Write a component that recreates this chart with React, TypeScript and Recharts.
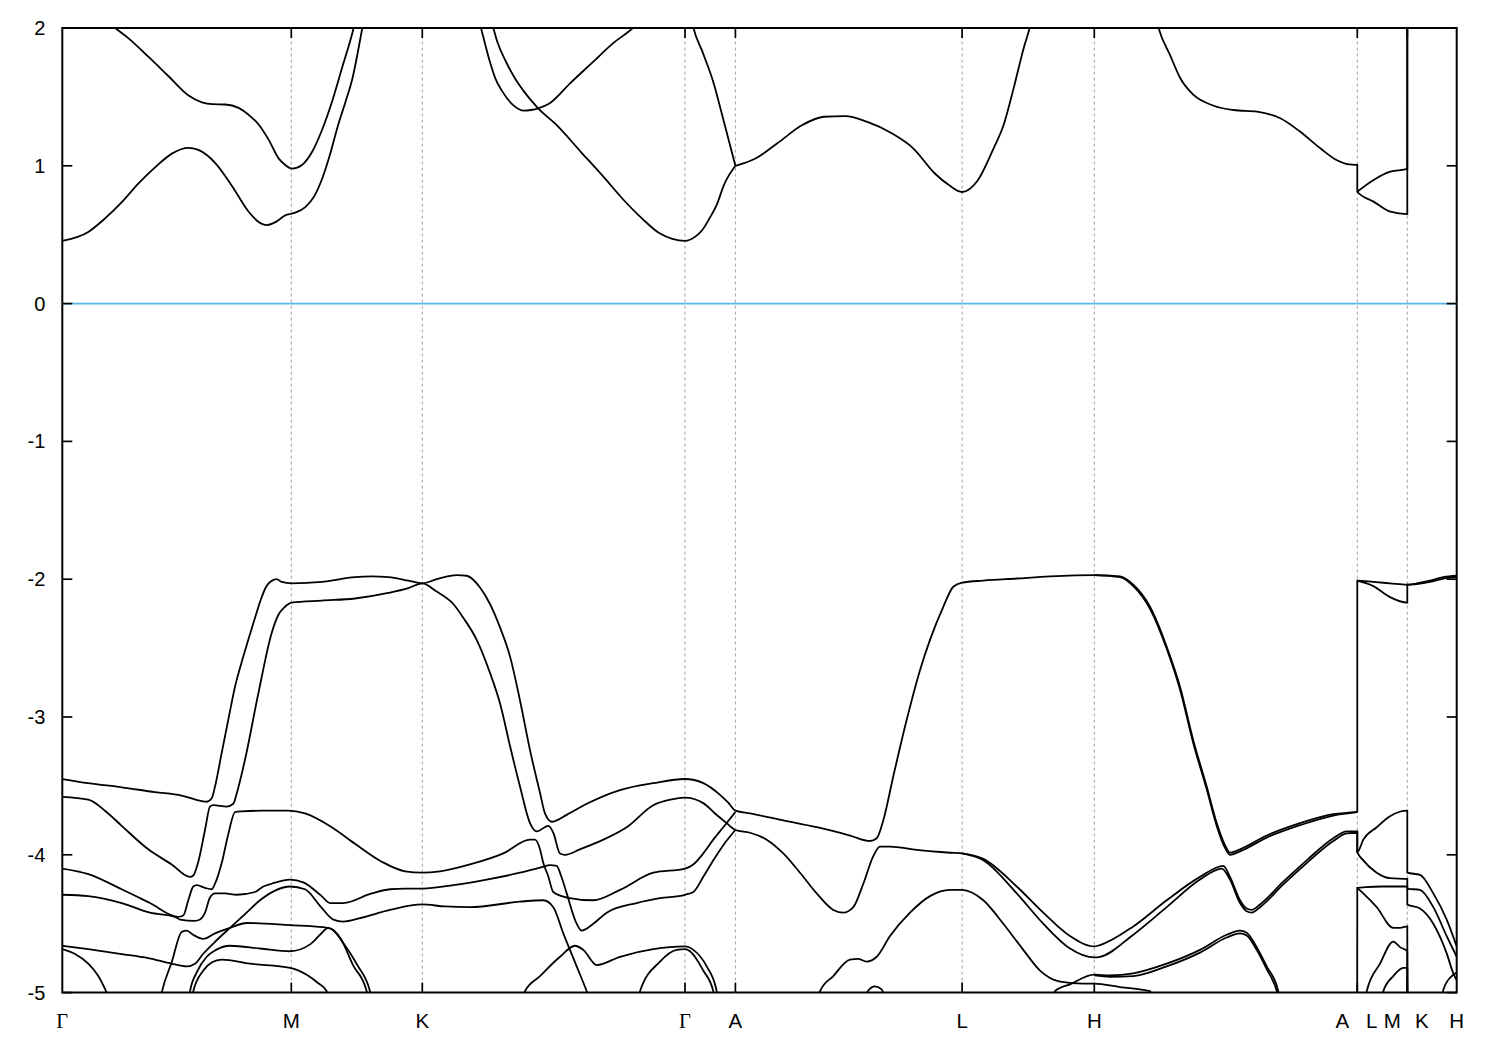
import React from 'react';
import { LineChart, Line, XAxis, YAxis, ReferenceLine, ReferenceArea } from 'recharts';

// ---- layout constants (svg coordinates) ----
const W = 1484;
const H = 1034;
const PLOT_L = 54.3;
const PLOT_T = 20;
const PLOT_R = 1448.7;
const PLOT_B = 984.6;
const KMAX = 1394.4;

// ---- axes ----
const kTicks = [0, 229, 360, 622.7, 673.1, 899.8, 1032, 1295, 1345, 1394.4];
const kLabels = ['Γ', 'M', 'K', 'Γ', 'A', 'L', 'H', 'A|L', 'M|K', 'H'];
const eTicks = [-5, -4, -3, -2, -1, 0, 1, 2];

// ---- conduction bands [k, E] ----
const cbLower: number[][] = [[0,0.455],[26,0.52],[43,0.62],[60,0.74],[76,0.87],[93,0.99],[110,1.09],[126,1.13],[136,1.115],[153,1.02],[170,0.85],[186,0.67],[195,0.60],[205,0.57],[214,0.595],[223,0.64],[229,0.652],[233,0.66],[243,0.70],[252,0.78],[260,0.91],[268,1.09],[276,1.30],[283,1.46],[290,1.63],[300,2.0],[310,2.4],[360,3.0],[410,2.45],[431,2.0],[435,1.90],[443.7,1.755],[452.6,1.635],[461.6,1.54],[475.9,1.417],[493.7,1.30],[518.7,1.10],[540,0.93],[561.6,0.75],[579.4,0.62],[597.3,0.51],[610,0.47],[622.7,0.455],[633,0.486],[640,0.534],[647.3,0.62],[654.4,0.716],[661.6,0.86],[673.1,1.0]];
const cbALHA: number[][] = [[673.1,1.0],[693.7,1.055],[715,1.163],[740,1.296],[761.6,1.356],[783,1.36],[804.4,1.32],[829.4,1.236],[850.9,1.127],[872.3,0.946],[886.6,0.86],[899.8,0.81],[915,0.89],[931.3,1.127],[941.3,1.296],[951.3,1.562],[961.3,1.852],[967.3,2.0],[980,2.5],[1032,3.0],[1083,2.5],[1096.3,2.0],[1108,1.80],[1118,1.635],[1131.3,1.514],[1151.3,1.436],[1171.3,1.405],[1194.7,1.393],[1218,1.345],[1238,1.247],[1258,1.127],[1274.7,1.04],[1285,1.012],[1295,1.006],[1295,0.812],[1311.3,0.74],[1328,0.667],[1345,0.65],[1345,2.6],[1394.4,2.6]];
const cbUpper: number[][] = [[0,2.35],[25,2.2],[53,2.0],[66.3,1.925],[86.3,1.79],[106.3,1.65],[126.3,1.51],[139.7,1.46],[150,1.447],[163,1.445],[176.3,1.42],[186.3,1.37],[196.3,1.30],[206.3,1.19],[216.3,1.054],[223,1.006],[229.7,0.98],[239.7,1.006],[249.7,1.10],[259.7,1.26],[269.7,1.465],[279.7,1.71],[291.3,2.0],[300,2.3],[360,3.0],[405,2.4],[418.7,2.0],[427.6,1.755],[433,1.635],[440,1.54],[450.9,1.44],[461.6,1.40],[468.7,1.405],[475.9,1.417],[486.6,1.45],[508,1.60],[529.4,1.745],[550.9,1.89],[570.5,2.0],[600,2.25],[622.7,2.35],[631.2,2.0],[640,1.83],[650.9,1.61],[661.6,1.32],[673.1,1.0]];
const cbLMUpper: number[][] = [[1295,0.812],[1311.3,0.897],[1328,0.957],[1345,0.977],[1345,2.6],[1394.4,2.6]];

// ---- valence bands [k, E] ----
const vb1: number[][] = [[0,-3.45],[26,-3.48],[59.4,-3.51],[92.7,-3.545],[119.4,-3.57],[139.4,-3.61],[144.4,-3.615],[149.4,-3.59],[152.7,-3.505],[159.4,-3.26],[166,-3.02],[172.7,-2.78],[179.4,-2.6],[186,-2.44],[192.7,-2.28],[199.4,-2.13],[203.5,-2.06],[207.7,-2.02],[214.4,-2.0],[219.4,-2.02],[229.4,-2.03],[259.4,-2.02],[292.7,-1.985],[309.4,-1.98],[326,-1.985],[346,-2.01],[360,-2.03],[374.4,-2.0],[394.4,-1.97],[404.4,-1.975],[417.7,-2.06],[427.7,-2.18],[437.7,-2.35],[447.7,-2.56],[457.7,-2.88],[467.7,-3.24],[477.7,-3.55],[482.7,-3.70],[489.4,-3.76],[504.4,-3.71],[524.4,-3.63],[557.7,-3.53],[591,-3.48],[622.7,-3.45],[641,-3.48],[657.7,-3.565],[665.7,-3.62],[673.1,-3.68],[687.7,-3.70],[721,-3.75],[754.4,-3.80],[787.7,-3.86],[807.7,-3.90],[814.4,-3.88],[821,-3.75],[831,-3.43],[844.4,-3.02],[857.7,-2.66],[867.7,-2.44],[881,-2.20],[891,-2.055],[899.8,-2.025],[921,-2.01],[954.4,-1.995],[987.7,-1.98],[1032,-1.97],[1057.7,-1.98],[1071,-2.04],[1087.7,-2.20],[1104.4,-2.49],[1117.7,-2.78],[1131,-3.17],[1144.4,-3.505],[1154.4,-3.77],[1162.7,-3.93],[1167.7,-3.985],[1177.7,-3.96],[1204.4,-3.86],[1237.7,-3.77],[1271,-3.705],[1295,-3.687],[1295,-2.01],[1311,-2.02],[1327.7,-2.03],[1345,-2.04],[1354.4,-2.03],[1367.7,-2.01],[1381,-1.985],[1394.4,-1.975]];
const vb1b: number[][] = [[1032,-1.97],[1057.7,-1.985],[1071,-2.05],[1087.7,-2.215],[1104.4,-2.505],[1117.7,-2.80],[1131,-3.19],[1144.4,-3.525],[1154.4,-3.79],[1162.7,-3.95],[1167.7,-4.0],[1177.7,-3.975],[1204.4,-3.875],[1237.7,-3.785],[1271,-3.715],[1295,-3.69]];
const vbLM2: number[][] = [[1295,-2.01],[1311,-2.05],[1327.7,-2.13],[1345,-2.17],[1345,-2.04],[1354.4,-2.035],[1367.7,-2.02],[1381,-1.995],[1394.4,-1.985]];
const vb2: number[][] = [[0,-3.58],[26,-3.60],[42.7,-3.68],[59.4,-3.79],[86,-3.96],[109.4,-4.07],[127.7,-4.16],[131,-4.15],[136,-4.05],[142.7,-3.82],[147.7,-3.65],[151,-3.64],[164.4,-3.65],[171,-3.63],[174.4,-3.555],[182.7,-3.31],[196,-2.83],[209.4,-2.39],[216,-2.26],[222.7,-2.20],[229.4,-2.17],[259.4,-2.155],[292.7,-2.14],[326,-2.10],[346,-2.065],[360,-2.03],[374.4,-2.09],[391,-2.18],[401,-2.28],[414.4,-2.44],[427.7,-2.68],[437.7,-2.90],[447.7,-3.21],[457.7,-3.505],[467.7,-3.77],[474.4,-3.83],[486,-3.79],[491,-3.84],[497.7,-3.99],[502.7,-4.0],[517.7,-3.96],[541,-3.89],[564.4,-3.80],[591,-3.64],[608,-3.60],[622.7,-3.585],[641,-3.625],[652.7,-3.70],[664.4,-3.77],[673.1,-3.82],[687.7,-3.84],[704.4,-3.89],[721,-3.99],[737.7,-4.13],[754.4,-4.28],[771,-4.40],[781,-4.42],[791,-4.38],[801,-4.21],[811,-4.01],[817.7,-3.94],[827.7,-3.94],[854.4,-3.965],[887.7,-3.985],[899.8,-3.99],[921,-4.03],[954.4,-4.23],[981,-4.42],[1007.7,-4.59],[1032,-4.665],[1037.7,-4.655],[1071,-4.52],[1104.4,-4.33],[1137.7,-4.16],[1161,-4.08],[1167.7,-4.16],[1177.7,-4.33],[1184.4,-4.39],[1189.4,-4.40],[1197.7,-4.36],[1221,-4.195],[1244.4,-4.04],[1271,-3.88],[1284.4,-3.83],[1295,-3.83],[1295,-3.98],[1301,-3.89],[1314.4,-3.80],[1327.7,-3.72],[1345,-3.68],[1345,-4.13],[1357.7,-4.145],[1371,-4.28],[1384.4,-4.47],[1394.4,-4.665]];
const vb2b: number[][] = [[899.8,-3.99],[921,-4.04],[954.4,-4.28],[981,-4.50],[1007.7,-4.68],[1032,-4.745],[1037.7,-4.74],[1071,-4.58],[1104.4,-4.38],[1137.7,-4.18],[1159.4,-4.10],[1167.7,-4.18],[1177.7,-4.35],[1184.4,-4.41],[1189.4,-4.42],[1197.7,-4.38],[1221,-4.215],[1244.4,-4.06],[1271,-3.90],[1284.4,-3.845],[1295,-3.84],[1295,-3.98],[1301,-4.04],[1314.4,-4.13],[1327.7,-4.17],[1345,-4.175],[1345,-4.245],[1357.7,-4.255],[1371,-4.38],[1384.4,-4.59],[1394.4,-4.74]];
const vb3: number[][] = [[0,-4.10],[26,-4.14],[59.4,-4.25],[87.7,-4.35],[116,-4.45],[121,-4.44],[126,-4.33],[131,-4.23],[134.4,-4.22],[142.7,-4.24],[149.4,-4.25],[152.7,-4.21],[159.4,-4.06],[166,-3.85],[172.7,-3.69],[179.4,-3.685],[200,-3.68],[226,-3.68],[242.7,-3.70],[269.4,-3.80],[292.7,-3.92],[319.4,-4.05],[342.7,-4.12],[360,-4.13],[377.7,-4.12],[407.7,-4.07],[441,-3.99],[467.7,-3.89],[472.7,-3.89],[477.7,-3.96],[481,-4.06],[485.7,-4.15],[491,-4.27],[504.4,-4.31],[531,-4.33],[557.7,-4.255],[591,-4.13],[622.7,-4.10],[631,-4.07],[641,-3.99],[651,-3.89],[661,-3.80],[673.1,-3.69]];
const vb4: number[][] = [[0,-4.29],[26,-4.30],[59.4,-4.35],[87.7,-4.42],[112.7,-4.45],[117.7,-4.47],[132.7,-4.48],[137.7,-4.47],[142.7,-4.42],[147.7,-4.31],[152.7,-4.28],[162.7,-4.28],[174.4,-4.29],[192.7,-4.27],[201,-4.23],[209.4,-4.21],[227.7,-4.18],[241,-4.20],[259.4,-4.30],[267.7,-4.35],[281,-4.35],[309.4,-4.28],[327.7,-4.25],[342.7,-4.245],[360,-4.245],[391,-4.22],[424.4,-4.18],[457.7,-4.13],[479.4,-4.09],[487.7,-4.075],[494.4,-4.08],[498.7,-4.15],[504.4,-4.28],[514.4,-4.50],[519.4,-4.55],[531,-4.50],[544.4,-4.42],[574.4,-4.35],[597.7,-4.315],[622.7,-4.29],[631,-4.27],[641,-4.16],[651,-4.04],[661,-3.93],[673.1,-3.82]];
const vb5: number[][] = [[0,-4.66],[26,-4.685],[59.4,-4.72],[86,-4.75],[109.4,-4.79],[124.4,-4.81],[132.7,-4.79],[140.7,-4.72],[154.4,-4.62],[167.7,-4.53],[182.7,-4.43],[197.7,-4.33],[212.7,-4.26],[227.7,-4.23],[242.7,-4.25],[257.7,-4.37],[271,-4.47],[281,-4.485],[297.7,-4.46],[327.7,-4.40],[360,-4.36],[382.7,-4.375],[407.7,-4.38],[457.7,-4.34],[481,-4.33],[491,-4.38],[501,-4.57],[514.4,-4.81],[524.4,-4.99],[530,-5.1]];
const vb6: number[][] = [[0,-4.685],[12.7,-4.72],[26,-4.79],[36,-4.88],[44.4,-5.0],[48,-5.06]];
const vb7: number[][] = [[97.7,-5.06],[99.4,-5.0],[109.4,-4.78],[119.4,-4.56],[124.4,-4.55],[130.7,-4.58],[141,-4.61],[152.7,-4.57],[167.7,-4.53],[184.4,-4.495],[227.7,-4.51],[261,-4.525],[269.4,-4.54],[281,-4.64],[295,-4.80],[307.7,-4.99],[310,-5.06]];
const vbArc1: number[][] = [[126.7,-5.06],[127.7,-4.99],[134.7,-4.85],[144.4,-4.74],[153.7,-4.69],[167.7,-4.66],[197.7,-4.68],[227.7,-4.70],[247.7,-4.65],[257.7,-4.58],[266,-4.53],[277.7,-4.60],[290.7,-4.80],[304.4,-4.99],[306,-5.06]];
const vbArc2: number[][] = [[129.7,-5.06],[131,-4.99],[141,-4.84],[149.7,-4.78],[159.4,-4.76],[187.7,-4.79],[227.7,-4.82],[244.4,-4.87],[255.7,-4.93],[264.4,-4.99],[266,-5.06]];
const vbKG4: number[][] = [[459.7,-5.06],[462.7,-4.99],[477.7,-4.88],[497.7,-4.74],[512.7,-4.66],[521,-4.69],[534.4,-4.80],[557.7,-4.74],[591,-4.685],[622.7,-4.665],[631,-4.69],[644.4,-4.81],[654.4,-4.99],[656,-5.06]];
const vbKG5: number[][] = [[575.7,-5.06],[577.7,-4.99],[597.7,-4.775],[614.4,-4.69],[622.7,-4.685],[627.7,-4.70],[641,-4.84],[651,-4.99],[652.7,-5.06]];
const vbHump: number[][] = [[802,-5.04],[806,-4.985],[812.7,-4.955],[819,-4.975],[823,-5.04]];
const vb8: number[][] = [[755.7,-5.06],[757.7,-4.99],[771,-4.88],[787.7,-4.76],[795.7,-4.755],[804.4,-4.775],[814.4,-4.74],[827.7,-4.59],[847.7,-4.42],[867.7,-4.30],[887.7,-4.255],[899.8,-4.255],[921,-4.33],[941,-4.50],[961,-4.69],[977.7,-4.84],[997.7,-4.92],[1021,-4.935],[1032,-4.935],[1057.7,-4.96],[1087.7,-4.99],[1091,-5.06]];
const vb9: number[][] = [[990,-5.06],[992.7,-4.99],[1007.7,-4.94],[1032,-4.87],[1047.7,-4.875],[1071,-4.86],[1104.4,-4.79],[1137.7,-4.69],[1164.4,-4.58],[1177.7,-4.55],[1184.4,-4.565],[1194.4,-4.67],[1204.4,-4.81],[1216,-4.99],[1218,-5.06]];
const vb9b: number[][] = [[1032,-4.875],[1047.7,-4.885],[1071,-4.88],[1104.4,-4.81],[1137.7,-4.71],[1164.4,-4.60],[1177.7,-4.57],[1184.4,-4.585],[1194.4,-4.69],[1204.4,-4.83],[1215,-5.0],[1217,-5.06]];
const vb10: number[][] = [[1294.9,-5.1],[1295,-4.24],[1303,-4.235],[1320,-4.23],[1345,-4.23],[1345,-4.36],[1357.7,-4.39],[1371,-4.50],[1384.4,-4.715],[1391,-4.86],[1394.4,-4.91]];
const vb11: number[][] = [[1295,-4.24],[1301,-4.28],[1314.4,-4.38],[1331,-4.53],[1337.7,-4.53],[1345,-4.52],[1345.1,-5.1]];
const vb12: number[][] = [[1304,-5.06],[1304.4,-4.99],[1317.7,-4.79],[1331,-4.63],[1337.7,-4.67],[1345,-4.70],[1345.1,-5.1]];
const vb13: number[][] = [[1320,-5.06],[1321,-4.99],[1331,-4.88],[1341,-4.82],[1345,-4.82],[1345.1,-5.1]];
const vb14: number[][] = [[1380,-5.06],[1381,-4.98],[1391,-4.87],[1394.4,-4.855]];

const bandSets: { name: string; pts: number[][] }[] = [
  { name: 'cbLower', pts: cbLower }, { name: 'cbALHA', pts: cbALHA }, { name: 'cbUpper', pts: cbUpper }, { name: 'cbLMUpper', pts: cbLMUpper },
  { name: 'vb1', pts: vb1 }, { name: 'vb1b', pts: vb1b }, { name: 'vbLM2', pts: vbLM2 }, { name: 'vb2', pts: vb2 }, { name: 'vb2b', pts: vb2b },
  { name: 'vb3', pts: vb3 }, { name: 'vb4', pts: vb4 }, { name: 'vb5', pts: vb5 }, { name: 'vb6', pts: vb6 }, { name: 'vb7', pts: vb7 },
  { name: 'vbArc1', pts: vbArc1 }, { name: 'vbArc2', pts: vbArc2 }, { name: 'vbKG4', pts: vbKG4 }, { name: 'vbKG5', pts: vbKG5 },
  { name: 'vbHump', pts: vbHump }, { name: 'vb8', pts: vb8 }, { name: 'vb9', pts: vb9 }, { name: 'vb9b', pts: vb9b },
  { name: 'vb10', pts: vb10 }, { name: 'vb11', pts: vb11 }, { name: 'vb12', pts: vb12 }, { name: 'vb13', pts: vb13 }, { name: 'vb14', pts: vb14 },
];

const bands = bandSets.map((b) => ({ name: b.name, data: b.pts.map(([x, e]) => ({ x, e })) }));

const LABEL_FONT = "'Liberation Sans', Arial, sans-serif";
const GAMMA_FONT = "'Liberation Serif', 'DejaVu Serif', serif";

const XTick = (props: any) => {
  const { x, payload } = props;
  const v = payload.value;
  const idx = kTicks.indexOf(v);
  const lab = idx >= 0 ? kLabels[idx] : '';
  const parts = lab.split('|');
  const texts: [string, number][] = parts.length === 2 ? [[parts[0], -15], [parts[1], 14.5]] : [[lab, 0]];
  const inner = v > 0 && v < KMAX;
  return (
    <g>
      {inner && <line x1={x} x2={x} y1={PLOT_B} y2={PLOT_B - 10} stroke="#000" strokeWidth={1.7} />}
      {inner && <line x1={x} x2={x} y1={PLOT_T} y2={PLOT_T + 10} stroke="#000" strokeWidth={1.7} />}
      {texts.map(([t, dx], i) => (
        <text key={i} x={x + dx} y={1020} textAnchor="middle" fontSize={20.5}
          fontFamily={t === 'Γ' ? GAMMA_FONT : LABEL_FONT} fill="#000">{t}</text>
      ))}
    </g>
  );
};

const YTick = (props: any) => {
  const { y, payload } = props;
  return (
    <g>
      <line x1={PLOT_L} x2={PLOT_L + 10} y1={y} y2={y} stroke="#000" strokeWidth={1.7} />
      <line x1={PLOT_R - 10} x2={PLOT_R} y1={y} y2={y} stroke="#000" strokeWidth={1.7} />
      <text x={PLOT_L - 17} y={y + 7} textAnchor="end" fontSize={20} fontFamily={LABEL_FONT} fill="#000">
        {String(payload.value)}
      </text>
    </g>
  );
};

export default function App() {
  return (
    <div style={{ width: W, height: H, background: '#fff' }}>
      <LineChart width={W} height={H} margin={{ top: PLOT_T, right: W - PLOT_R, bottom: 0, left: 0 }}>
        <XAxis type="number" dataKey="x" domain={[0, KMAX]} ticks={kTicks} interval={0}
          tick={(p: any) => <XTick {...p} />} tickLine={false} axisLine={false}
          height={H - PLOT_B} allowDataOverflow />
        <YAxis type="number" domain={[-5, 2]} ticks={eTicks} interval={0}
          tick={(p: any) => <YTick {...p} />} tickLine={false} axisLine={false}
          width={PLOT_L} allowDataOverflow />
        {kTicks.slice(1, -1).map((k) => (
          <ReferenceLine key={'g' + k} x={k} stroke="#a0a0a0" strokeWidth={1} strokeDasharray="3 3" />
        ))}
        <ReferenceLine y={0} stroke="#56b4e9" strokeWidth={1.7} />
        {bands.map((b) => (
          <Line key={b.name} name={b.name} data={b.data} dataKey="e" type="monotoneX"
            stroke="#000" strokeWidth={1.8} dot={false} activeDot={false}
            isAnimationActive={false} legendType="none" />
        ))}
        <ReferenceArea x1={0} x2={KMAX} y1={-5} y2={2} fill="#fff" fillOpacity={0}
          stroke="#000" strokeWidth={2} />
      </LineChart>
    </div>
  );
}
